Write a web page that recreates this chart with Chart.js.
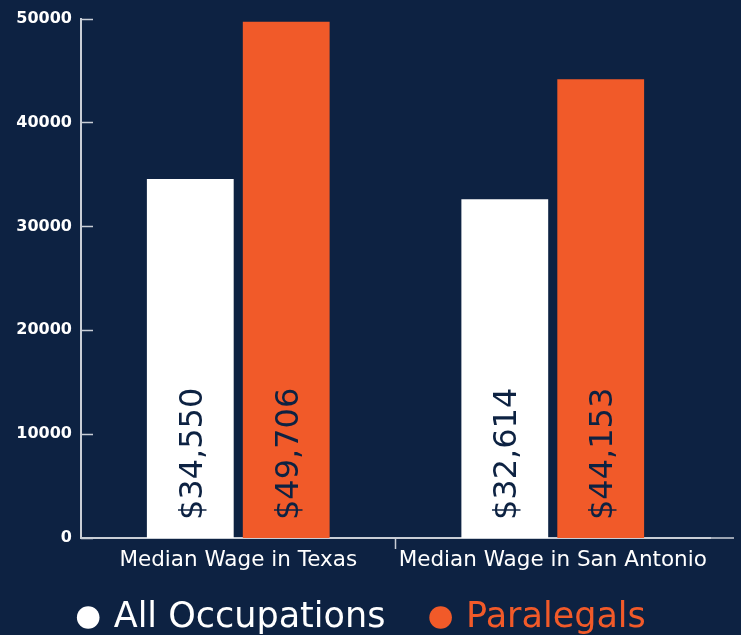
<!DOCTYPE html>
<html>
<head>
<meta charset="utf-8">
<script src="https://cdn.jsdelivr.net/npm/chart.js@4.4.0/dist/chart.umd.min.js"></script>
<style>
    html, body { margin: 0; padding: 0; background: #0d2242; }
    #wrap { width: 741px; height: 635px; }
</style>
</head>
<body>
<div id="wrap"><canvas id="wageChart"></canvas></div>
<script>
const categories = ['Median Wage in Texas', 'Median Wage in San Antonio'];
const allOccupations = [34550, 32614];
const paralegals = [49706, 44153];
const yTicks = [0, 10000, 20000, 30000, 40000, 50000];

const navy = '#0d2242';
const orange = '#f15a29';
const axisColor = '#c9ced6';
const fontFamily = "'DejaVu Sans', sans-serif";

// inward y ticks + the divider tick under the x axis
const axisTicks = {
    id: 'axisTicks',
    afterDraw(chart) {
        const ctx = chart.ctx;
        const area = chart.chartArea;
        const y = chart.scales.y;
        const x = chart.scales.x;
        ctx.save();
        ctx.strokeStyle = axisColor;
        ctx.lineWidth = 1.5;
        ctx.beginPath();
        y.ticks.forEach(t => {
            const py = Math.round(y.getPixelForValue(t.value)) + 0.5;
            ctx.moveTo(area.left, py);
            ctx.lineTo(area.left + 12, py);
        });
        const mid = (x.getPixelForValue(0) + x.getPixelForValue(1)) / 2;
        ctx.moveTo(mid, area.bottom);
        ctx.lineTo(mid, area.bottom + 11);
        ctx.moveTo(area.right, area.bottom);
        ctx.lineTo(area.right + 24, area.bottom);
        ctx.stroke();
        ctx.restore();
    }
};

// rotated value labels inside the bars
const barLabels = {
    id: 'barLabels',
    afterDatasetsDraw(chart) {
        const ctx = chart.ctx;
        ctx.save();
        ctx.fillStyle = navy;
        ctx.font = '32px ' + fontFamily;
        ctx.textAlign = 'left';
        ctx.textBaseline = 'middle';
        chart.data.datasets.forEach((ds, i) => {
            chart.getDatasetMeta(i).data.forEach((bar, j) => {
                const text = '$' + ds.data[j].toLocaleString('en-US');
                ctx.save();
                ctx.translate(bar.x + 3, bar.base - 18);
                ctx.rotate(-Math.PI / 2);
                ctx.fillText(text, 0, 0);
                ctx.restore();
            });
        });
        ctx.restore();
    }
};

new Chart(document.getElementById('wageChart').getContext('2d'), {
    type: 'bar',
    data: {
        labels: categories,
        datasets: [
            {
                label: 'All Occupations',
                data: allOccupations,
                backgroundColor: '#ffffff',
                categoryPercentage: 0.61,
                barPercentage: 0.905
            },
            {
                label: 'Paralegals',
                data: paralegals,
                backgroundColor: orange,
                categoryPercentage: 0.61,
                barPercentage: 0.905
            }
        ]
    },
    options: {
        responsive: true,
        maintainAspectRatio: false,
        animation: false,
        layout: {
            padding: { top: 3, right: 31, left: 16, bottom: -10 }
        },
        plugins: {
            tooltip: { enabled: false },
            legend: {
                position: 'bottom',
                labels: {
                    usePointStyle: true,
                    pointStyle: 'circle',
                    boxWidth: 16,
                    boxHeight: 16,
                    padding: 25,
                    font: { family: fontFamily, size: 35 },
                    generateLabels(chart) {
                        // a little extra room after the first item
                        return chart.data.datasets.map((ds, i) => ({
                            text: i === 0 ? ds.label + '  ' : ds.label,
                            fillStyle: ds.backgroundColor,
                            strokeStyle: ds.backgroundColor,
                            fontColor: ds.backgroundColor,
                            lineWidth: 0,
                            pointStyle: 'circle',
                            datasetIndex: i
                        }));
                    }
                }
            }
        },
        scales: {
            x: {
                grid: { display: false, drawTicks: false },
                border: { display: true, color: axisColor, width: 2 },
                ticks: {
                    color: '#ffffff',
                    padding: 10,
                    font: { family: fontFamily, size: 21.5 }
                },
                afterFit(scale) { scale.height = 37; }
            },
            y: {
                min: 0,
                max: 50000,
                grid: { display: false, drawTicks: false },
                border: { display: true, color: axisColor, width: 2 },
                afterBuildTicks(scale) {
                    scale.ticks = yTicks.map(v => ({ value: v }));
                },
                ticks: {
                    color: '#ffffff',
                    padding: 9,
                    font: { family: fontFamily, size: 16, weight: 'bold' },
                    callback: v => String(v)
                },
                afterFit(scale) { scale.width = 65; }
            }
        }
    },
    plugins: [axisTicks, barLabels]
});
</script>
</body>
</html>
